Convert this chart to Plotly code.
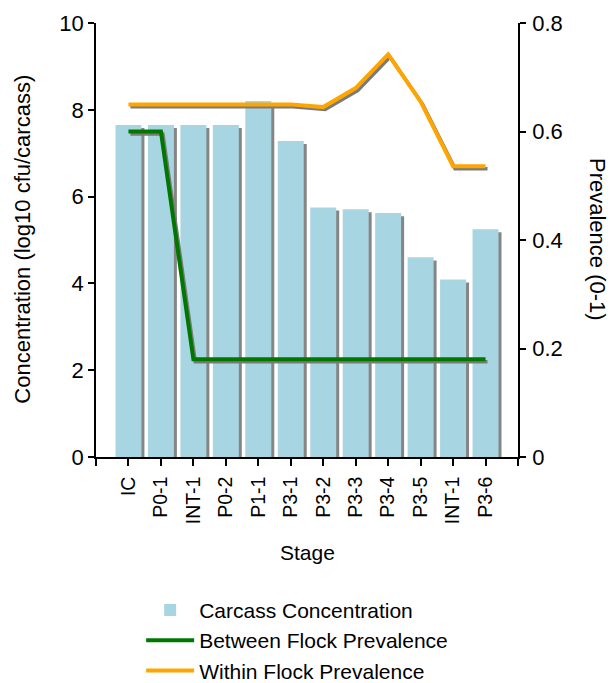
import plotly.graph_objects as go

stages = ["IC", "P0-1", "INT-1", "P0-2", "P1-1", "P3-1", "P3-2", "P3-3", "P3-4", "P3-5", "INT-1", "P3-6"]
concentration = [7.65, 7.65, 7.65, 7.65, 8.2, 7.28, 5.75, 5.71, 5.62, 4.6, 4.09, 5.25]
between_flock = [0.6, 0.6, 0.18, 0.18, 0.18, 0.18, 0.18, 0.18, 0.18, 0.18, 0.18, 0.18]
within_flock = [0.65, 0.65, 0.65, 0.65, 0.65, 0.65, 0.645, 0.68, 0.742, 0.655, 0.536, 0.536]
left_ticks = [0, 2, 4, 6, 8, 10]
right_ticks = [0, 0.2, 0.4, 0.6, 0.8]

FONT = "Liberation Sans, Arial, sans-serif"
idx = list(range(len(stages)))

# drop-shadow offsets (styling only)
BAR_DX, BAR_DY = 0.092, 0.07
LINE_DX, LINE_DY = 0.06, 0.0045

fig = go.Figure()

# bar shadows
fig.add_trace(go.Bar(
    x=[i + BAR_DX for i in idx], y=[v - BAR_DY for v in concentration],
    width=0.8, marker=dict(color="#858585", line=dict(width=0)),
    showlegend=False, hoverinfo="skip"))
# bars
fig.add_trace(go.Bar(
    x=idx, y=concentration, name="Carcass Concentration",
    width=0.8, marker=dict(color="#A8D5E2", line=dict(width=0))))

# line shadows
fig.add_trace(go.Scatter(
    x=[i + LINE_DX for i in idx], y=[v - LINE_DY for v in between_flock],
    yaxis="y2", mode="lines", line=dict(color="#7a7a7a", width=3.5),
    showlegend=False, hoverinfo="skip"))
fig.add_trace(go.Scatter(
    x=[i + LINE_DX for i in idx], y=[v - LINE_DY for v in within_flock],
    yaxis="y2", mode="lines", line=dict(color="#7a7a7a", width=3.5),
    showlegend=False, hoverinfo="skip"))
# lines
fig.add_trace(go.Scatter(
    x=idx, y=between_flock, yaxis="y2", mode="lines",
    name="Between Flock Prevalence", line=dict(color="#007800", width=4)))
fig.add_trace(go.Scatter(
    x=idx, y=within_flock, yaxis="y2", mode="lines",
    name="Within Flock Prevalence", line=dict(color="#FFA500", width=4)))

fig.update_layout(
    width=608, height=675,
    margin=dict(l=88, r=98, t=15, b=226, autoexpand=False),
    paper_bgcolor="white", plot_bgcolor="white",
    barmode="overlay",
    font=dict(family=FONT, size=21, color="black"),
    xaxis=dict(
        range=[-1, 12],
        tickmode="array",
        tickvals=[-1] + idx + [12],
        ticktext=[""] + stages + [""],
        tickangle=-90,
        ticks="outside", ticklen=7, tickcolor="black", tickwidth=1.5,
        showline=True, linecolor="black", linewidth=1.5,
        showgrid=False, zeroline=False,
        tickfont=dict(size=19.5), ticklabelstandoff=3,
    ),
    yaxis=dict(
        range=[0, 10], tickmode="array", tickvals=left_ticks,
        ticks="outside", ticklen=6, tickcolor="black", tickwidth=1.5,
        showline=True, linecolor="black", linewidth=1.5,
        showgrid=False, zeroline=False,
        tickfont=dict(size=22),
    ),
    yaxis2=dict(
        range=[0, 0.8], tickmode="array", tickvals=right_ticks,
        ticktext=[str(t) for t in right_ticks],
        overlaying="y", side="right",
        ticks="outside", ticklen=6, tickcolor="black", tickwidth=1.5,
        showline=True, linecolor="black", linewidth=1.5,
        showgrid=False, zeroline=False,
        tickfont=dict(size=22), ticklabelstandoff=2,
    ),
    legend=dict(
        x=0.107, xanchor="left", y=-0.306, yanchor="top",
        orientation="v", itemwidth=48,
        font=dict(size=21), bgcolor="rgba(0,0,0,0)",
        traceorder="normal",
    ),
    annotations=[
        dict(text="Concentration (log10 cfu/carcass)", xref="paper", yref="paper",
             x=-0.173, y=0.503, textangle=-90, showarrow=False,
             xanchor="center", yanchor="middle", font=dict(size=22)),
        dict(text="Prevalence (0-1)", xref="paper", yref="paper",
             x=1.19, y=0.502, textangle=90, showarrow=False,
             xanchor="center", yanchor="middle", font=dict(size=22)),
        dict(text="Stage", xref="paper", yref="paper",
             x=0.502, y=-0.219, showarrow=False,
             xanchor="center", yanchor="middle", font=dict(size=21)),
    ],
)

fig.write_html("out.html")
